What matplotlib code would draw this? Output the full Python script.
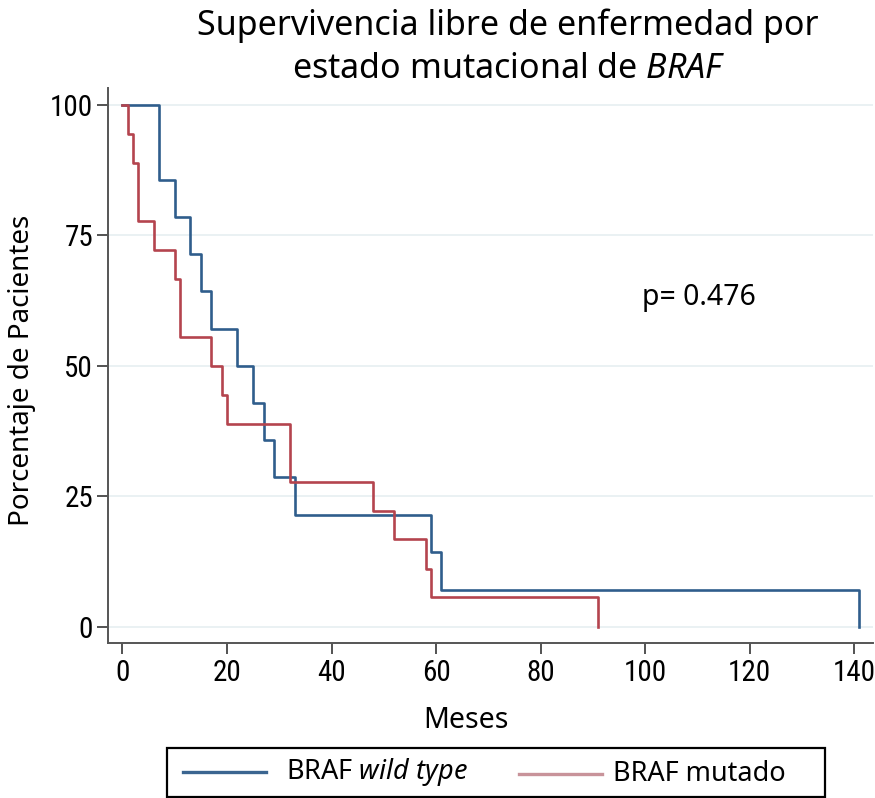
import matplotlib
matplotlib.use("Agg")
from matplotlib import pyplot as plt
from matplotlib.lines import Line2D
from matplotlib.patches import Rectangle
from matplotlib import font_manager

# Supervivencia libre de enfermedad (Kaplan-Meier) por estado de BRAF
meses_wt = [0, 7, 10, 13, 15, 17, 22, 25, 27, 29, 33, 59, 61, 141]
surv_wt = [100, 85.7, 78.6, 71.4, 64.3, 57.1, 50.0, 42.9, 35.7, 28.6, 21.4, 14.3, 7.1, 0]

meses_mut = [0, 1, 2, 3, 6, 10, 11, 17, 19, 20, 32, 48, 52, 58, 59, 91]
surv_mut = [100, 94.4, 88.9, 77.8, 72.2, 66.7, 55.6, 50.0, 44.4, 38.9, 27.8, 22.2, 16.7, 11.1, 5.6, 0]

xticks = [0, 20, 40, 60, 80, 100, 120, 140]
yticks = [0, 25, 50, 75, 100]
p_valor = "p= 0.476"

# fuente estrecha para los números de los ejes, si hay alguna
fuente_ticks = None
for cand in ["Liberation Sans Narrow", "Roboto Condensed", "Noto Sans Condensed", "Open Sans Condensed"]:
    for f in font_manager.fontManager.ttflist:
        if f.name == cand and f.style == "normal" and f.weight in (400, "normal", "regular"):
            fuente_ticks = font_manager.FontProperties(fname=f.fname)
            break
    if fuente_ticks:
        break
if fuente_ticks is None:
    for f in font_manager.fontManager.ttflist:
        if f.name == "DejaVu Sans" and f.stretch == "condensed" and f.style == "normal" \
                and f.weight in (400, "normal"):
            fuente_ticks = font_manager.FontProperties(fname=f.fname)
            break
if fuente_ticks is None:
    fuente_ticks = font_manager.FontProperties(family="Liberation Sans")
fuente_ticks.set_size(21)

sans = "Noto Sans"
plt.rcParams["mathtext.fontset"] = "custom"
plt.rcParams["mathtext.rm"] = sans
plt.rcParams["mathtext.it"] = sans + ":italic"

azul = "#2f5d8c"
rojo = "#b4444e"

fig = plt.figure(figsize=(8.75, 7.98), dpi=100)
ax = fig.add_axes([0.1238, 0.1939, 0.8739, 0.6962])

for y in yticks:
    ax.axhline(y, color="#e8f0f2", lw=1.3, zorder=0)

ax.step(meses_wt, surv_wt, where="post", color=azul, lw=1.9, zorder=2)
ax.step(meses_mut, surv_mut, where="post", color=rojo, lw=1.9, zorder=3)

ax.set_xlim(-2.7, 143.6)
ax.set_ylim(-3.2, 103.3)
ax.set_xticks(xticks)
ax.set_yticks(yticks)
ax.tick_params(length=8, width=1.3, color="#444444", pad=3)
for lab in ax.get_xticklabels() + ax.get_yticklabels():
    lab.set_fontproperties(fuente_ticks)
for s in ["top", "right"]:
    ax.spines[s].set_visible(False)
for s in ["left", "bottom"]:
    ax.spines[s].set_color("#555555")
    ax.spines[s].set_linewidth(1.4)

ax.set_ylabel("Porcentaje de Pacientes", fontsize=20, family=sans)
ax.set_xlabel("Meses", fontsize=20.5, family=sans)
ax.yaxis.set_label_coords(-0.094, 0.492)
ax.xaxis.set_label_coords(0.468, -0.113)

ax.text(0.772, 0.623, p_valor, transform=ax.transAxes, fontsize=20.5,
        family=sans, ha="center", va="center")

fig.text(0.58, 0.968, "Supervivencia libre de enfermedad por", fontsize=24.5,
         family=sans, ha="center", va="center")
fig.text(0.582, 0.914, r"estado mutacional de $\mathit{BRAF}$", fontsize=24.5,
         family=sans, ha="center", va="center")

# leyenda dibujada a mano en coordenadas de figura
W, H = 875.0, 798.0
fig.add_artist(Rectangle((167 / W, 1 - 797 / H), (825 - 167) / W, (797 - 748) / H,
                         transform=fig.transFigure, fill=False, ec="black", lw=1.6))
fig.add_artist(Line2D([183 / W, 266 / W], [1 - 772 / H] * 2, transform=fig.transFigure,
                      color="#3b6590", lw=2.4))
fig.add_artist(Line2D([519 / W, 602 / W], [1 - 774 / H] * 2, transform=fig.transFigure,
                      color="#c8939a", lw=2.4))
fig.text(286 / W, 1 - 772 / H, r"BRAF $\mathit{wild\ type}$", fontsize=19.5, family=sans,
         ha="left", va="center")
fig.text(613 / W, 1 - 774 / H, "BRAF mutado", fontsize=19.5, family=sans,
         ha="left", va="center")

fig.savefig("out.png", dpi=100)
